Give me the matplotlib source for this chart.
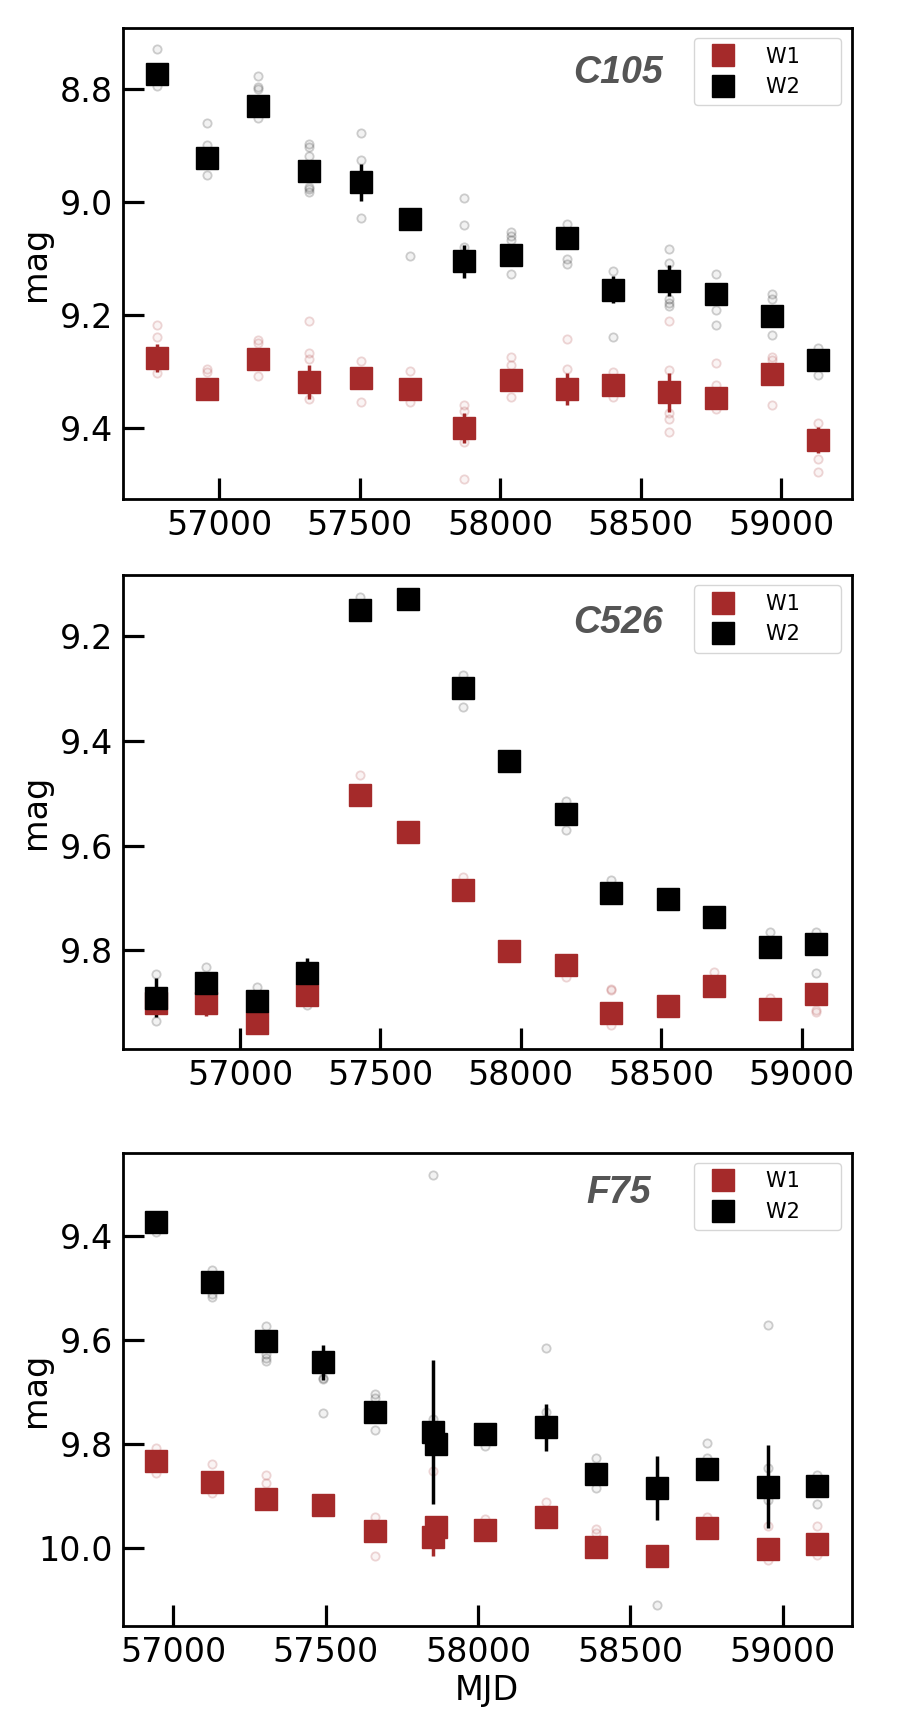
import numpy as np
import matplotlib
matplotlib.use('Agg')
import matplotlib.pyplot as plt
from matplotlib.colors import to_rgba

# ---- C105 ----
c105_mjd = [56779, 56958, 57140, 57320, 57505, 57678, 57872, 58040, 58237, 58401, 58601, 58768, 58967, 59132]
c105_w1 = [9.276, 9.331, 9.278, 9.318, 9.311, 9.331, 9.400, 9.315, 9.331, 9.324, 9.337, 9.347, 9.304, 9.421]
c105_w1_err = [0.024, 0.01, 0.01, 0.030, 0.01, 0.01, 0.026, 0.01, 0.028, 0.01, 0.035, 0.01, 0.01, 0.023]
c105_w2 = [8.772, 8.922, 8.830, 8.945, 8.965, 9.029, 9.105, 9.094, 9.063, 9.155, 9.139, 9.162, 9.201, 9.280]
c105_w2_err = [0.01, 0.01, 0.01, 0.012, 0.033, 0.01, 0.030, 0.01, 0.01, 0.024, 0.027, 0.01, 0.01, 0.01]
c105_w1_pts = [[9.218, 9.239, 9.303], [9.296, 9.301], [9.245, 9.250, 9.308],
               [9.210, 9.268, 9.278, 9.349], [9.281, 9.354], [9.299, 9.354],
               [9.359, 9.370, 9.425, 9.490], [9.275, 9.288, 9.345], [9.243, 9.295],
               [9.301, 9.345], [9.211, 9.298, 9.374, 9.385, 9.407], [9.285, 9.324, 9.366],
               [9.275, 9.280, 9.359], [9.392, 9.455, 9.478]]
c105_w2_pts = [[8.729, 8.794], [8.860, 8.899, 8.951], [8.777, 8.795, 8.799, 8.850],
               [8.896, 8.903, 8.918, 8.973, 8.977, 8.982], [8.877, 8.925, 9.028], [9.095],
               [8.992, 9.041, 9.079], [9.052, 9.060, 9.067, 9.128], [9.039, 9.100, 9.110],
               [9.122, 9.239], [9.083, 9.107, 9.171, 9.178, 9.184], [9.128, 9.191, 9.217],
               [9.163, 9.171, 9.236], [9.258, 9.307]]

# ---- C526 ----
c526_mjd = [56700, 56880, 57062, 57239, 57429, 57599, 57793, 57959, 58160, 58320, 58525, 58687, 58888, 59052]
c526_w1 = [9.901, 9.900, 9.940, 9.886, 9.504, 9.574, 9.684, 9.802, 9.829, 9.921, 9.907, 9.869, 9.913, 9.884]
c526_w1_err = [0.01, 0.025, 0.01, 0.01, 0.01, 0.01, 0.01, 0.01, 0.01, 0.01, 0.01, 0.01, 0.01, 0.01]
c526_w2 = [9.891, 9.862, 9.897, 9.844, 9.150, 9.129, 9.299, 9.438, 9.540, 9.691, 9.703, 9.737, 9.794, 9.789]
c526_w2_err = [0.037, 0.01, 0.01, 0.029, 0.01, 0.01, 0.01, 0.01, 0.01, 0.01, 0.01, 0.01, 0.01, 0.01]
c526_w1_pts = [[], [], [], [], [9.465], [], [9.660], [], [9.852], [9.875, 9.877, 9.943],
               [], [9.841], [9.891], [9.915, 9.918]]
c526_w2_pts = [[9.845, 9.936], [9.832], [9.871], [9.905], [9.124], [], [9.274, 9.335], [],
               [9.514, 9.570], [9.665], [], [], [9.765], [9.765, 9.843]]

# ---- F75 ----
f75_mjd = [56944, 57126, 57304, 57491, 57662, 57854, 57863, 58023, 58222, 58386, 58586, 58751, 58951, 59114]
f75_w1 = [9.833, 9.873, 9.905, 9.917, 9.968, 9.979, 9.959, 9.965, 9.940, 9.999, 10.016, 9.962, 10.001, 9.992]
f75_w1_err = [0.01, 0.01, 0.01, 0.01, 0.01, 0.037, 0.01, 0.01, 0.01, 0.01, 0.01, 0.01, 0.01, 0.01]
f75_w2 = [9.374, 9.488, 9.602, 9.643, 9.739, 9.777, 9.800, 9.781, 9.768, 9.857, 9.885, 9.848, 9.882, 9.880]
f75_w2_err = [0.01, 0.01, 0.01, 0.034, 0.01, 0.138, 0.01, 0.01, 0.045, 0.01, 0.061, 0.01, 0.080, 0.01]
f75_w1_pts = [[9.808, 9.855], [9.839, 9.894], [9.860, 9.876], [], [9.940, 10.015], [9.853], [],
              [9.945], [9.911], [9.964, 9.971], [], [9.940], [9.958, 10.023], [9.958, 10.014]]
f75_w2_pts = [[9.392], [9.466, 9.511, 9.517], [9.573, 9.627, 9.634, 9.641], [9.673, 9.676, 9.740],
              [9.704, 9.712, 9.773], [9.283, 9.753], [], [9.804], [9.615, 9.738], [9.827, 9.885],
              [10.110], [9.799, 9.828], [9.572, 9.847, 9.908], [9.860, 9.915]]

panels = [
    ('C105', c105_mjd, c105_w1, c105_w1_err, c105_w2, c105_w2_err, c105_w1_pts, c105_w2_pts,
     (56658, 59251), (9.526, 8.691), [8.8, 9.0, 9.2, 9.4], 0.904),
    ('C526', c526_mjd, c526_w1, c526_w1_err, c526_w2, c526_w2_err, c526_w1_pts, c526_w2_pts,
     (56583, 59178), (9.989, 9.083), [9.2, 9.4, 9.6, 9.8], 0.899),
    ('F75', f75_mjd, f75_w1, f75_w1_err, f75_w2, f75_w2_err, f75_w1_pts, f75_w2_pts,
     (56835, 59226), (10.150, 9.2405), [9.4, 9.6, 9.8, 10.0], 0.916),
]

positions = [[0.136, 0.7112, 0.806, 0.2727],
             [0.136, 0.3929, 0.806, 0.2743],
             [0.136, 0.0590, 0.806, 0.2739]]


def flatten(mjd, pts):
    xs, ys = [], []
    for m, p in zip(mjd, pts):
        for v in p:
            xs.append(m)
            ys.append(v)
    return xs, ys


fig = plt.figure(figsize=(9.04, 17.28), dpi=100)

for pos, (name, mjd, w1, w1e, w2, w2e, w1p, w2p, xlim, ylim, yticks, ty) in zip(positions, panels):
    ax = fig.add_axes(pos)
    for vals, errs, pts, col, lab in [(w1, w1e, w1p, 'brown', 'W1     '),
                                      (w2, w2e, w2p, 'black', 'W2     ')]:
        px, py = flatten(mjd, pts)
        ax.plot(px, py, 'o', ms=6, mew=1.3, mfc=to_rgba(col, 0.05), mec=to_rgba(col, 0.18), zorder=1)
        ax.errorbar(mjd, vals, yerr=errs, fmt='s', ms=16, color=col, elinewidth=2.5,
                    capsize=0, label=lab, zorder=2)
    ax.set_xlim(xlim)
    ax.set_ylim(ylim)
    ax.set_yticks(yticks)
    ax.set_xticks([57000, 57500, 58000, 58500, 59000])
    ax.tick_params(direction='in', length=15, width=2.3, labelsize=24, pad=7)
    for s in ax.spines.values():
        s.set_linewidth(2)
    ax.set_ylabel('mag', fontsize=24)
    ax.yaxis.set_label_coords(-0.097, 0.5)
    ax.text(0.68, ty, name, transform=ax.transAxes, ha='center', va='center',
            fontsize=27, fontweight='bold', fontstyle='italic', family='Liberation Sans', color='#555555')
    ax.legend(loc='upper right', fontsize=15, handletextpad=1.05)

ax.set_xlabel('MJD', fontsize=24)

plt.savefig('out.png', dpi=100)
